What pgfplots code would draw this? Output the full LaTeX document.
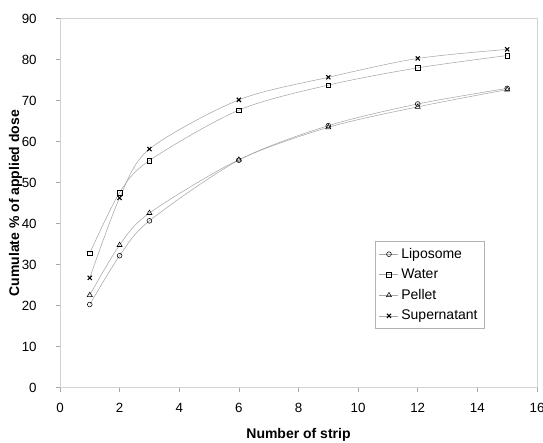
\documentclass[border=0pt]{standalone}
\usepackage{fontspec}
\setmainfont{Liberation Sans}
\usepackage{pgfplots}
\pgfplotsset{compat=1.18}

\begin{document}
\begin{tikzpicture}
\begin{axis}[
scale only axis,
width=358pt,
height=277pt,
xmin=0, xmax=16,
ymin=0, ymax=90,
xtick={0,2,...,16},
ytick={0,10,...,90},
axis line style={gray!35, thin},
tick style={gray!70, thin},
tick align=outside,
major tick length=3pt,
xtick pos=bottom,
ytick pos=left,
tick label style={font=\fontsize{10}{11}\selectfont},
/pgf/number format/assume math mode=true,
xticklabel style={yshift=-5pt},
yticklabel style={xshift=-11pt},
xlabel={\textbf{Number of strip}},
ylabel={\textbf{Cumulate \% of applied dose}},
label style={font=\fontsize{10.5}{12}\selectfont},
xlabel style={yshift=-5pt},
ylabel style={yshift=-7pt},
legend style={at={(0.89,0.16)}, anchor=south east, draw=gray!60, font=\fontsize{10.5}{12}\selectfont, row sep=2.5pt, inner sep=3pt},
legend cell align=left,
legend image code/.code={\draw[mark repeat=2,mark phase=2] plot coordinates {(0cm,0cm) (0.25cm,0cm) (0.5cm,0cm)};},
]
\addplot[smooth, tension=0.5, thin, gray!70, mark=o, mark size=1.8pt, mark options={black, solid, fill=white}] coordinates {(1,20.3) (2,32.2) (3,40.7) (6,55.5) (9,63.9) (12,69.2) (15,73.0)};
\addplot[smooth, tension=0.5, thin, gray!70, mark=square, mark size=1.7pt, mark options={black, solid, fill=white}] coordinates {(1,32.8) (2,47.6) (3,55.4) (6,67.7) (9,73.8) (12,78.0) (15,81.0)};
\addplot[smooth, tension=0.5, thin, gray!70, mark=triangle, mark size=2.2pt, mark options={black, solid, fill=white}] coordinates {(1,22.6) (2,34.8) (3,42.6) (6,55.6) (9,63.5) (12,68.5) (15,72.7)};
\addplot[smooth, tension=0.5, thin, gray!70, mark=x, mark size=2.2pt, mark options={black, solid, line width=0.8pt}] coordinates {(1,26.8) (2,46.3) (3,58.2) (6,70.2) (9,75.7) (12,80.3) (15,82.5)};
\legend{Liposome,Water,Pellet,Supernatant}
\end{axis}
\pgfresetboundingbox
\path ([shift={(-45pt,-41pt)}]current axis.south west) rectangle ([shift={(4.5pt,14pt)}]current axis.north east);
\end{tikzpicture}
\end{document}
